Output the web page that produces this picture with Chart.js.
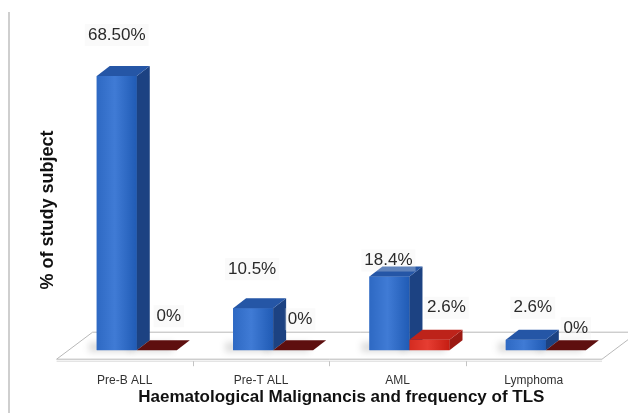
<!DOCTYPE html>
<html>
<head>
<meta charset="utf-8">
<script src="https://cdn.jsdelivr.net/npm/chart.js@4/dist/chart.umd.min.js"></script>
<style>
  html, body { margin: 0; padding: 0; background: #fff; }
  #wrap { position: relative; width: 628px; height: 413px; }
</style>
</head>
<body>
<div id="wrap"><canvas id="c" width="628" height="413"></canvas></div>
<script>
// Haematological malignancies: share of study subjects and TLS frequency
const categories = ['Pre-B ALL', 'Pre-T ALL', 'AML', 'Lymphoma'];
const subjectLabels = ['68.50%', '10.5%', '18.4%', '2.6%'];
const tlsLabels = ['0%', '0%', '2.6%', '0%'];
const subjectValues = subjectLabels.map(parseFloat);
const tlsValues = tlsLabels.map(parseFloat);

// where each value label sits relative to its bar's top (dx, dy)
const subjectNudge = [[0, -41], [-1, -39], [-1, -16], [7, -32]];
const tlsNudge = [[12, -34], [7, -31], [17, -32], [10, -22]];

const DEPTH_X = 13, DEPTH_Y = -10;      // 3D depth of each bar
const FLOOR_FRONT = 9, FLOOR_BACK = -18; // floor edges relative to bar base
const FLOOR_SHIFT_F = -12, FLOOR_SHIFT_B = 24;

const faces = {
  blue: { front: '#2e69c3', side: '#1c4282', top: '#2556a6' },
  red: { front: '#d42b20', side: '#9c1a13', top: '#bd231a' },
  maroon: { front: '#5a0d0d', side: '#4a0a0a', top: '#5e0f0f' }
};

function paletteFor(di, v) {
  if (di === 0) return faces.blue;
  return v === 0 ? faces.maroon : faces.red;
}

function shade(hex, amt) {
  const n = parseInt(hex.slice(1), 16);
  const c = [(n >> 16) & 255, (n >> 8) & 255, n & 255].map(v => Math.max(0, Math.min(255, v + amt)));
  return 'rgb(' + c.join(',') + ')';
}

const floorPlugin = {
  id: 'floor3d',
  beforeDatasetsDraw(chart) {
    const { ctx, chartArea, scales } = chart;
    const base = scales.y.getPixelForValue(0);
    const l = chartArea.left, r = chartArea.right;
    const fy = base + FLOOR_FRONT, by = base + FLOOR_BACK;
    ctx.save();
    ctx.beginPath();
    ctx.moveTo(l + FLOOR_SHIFT_F, fy);
    ctx.lineTo(r + FLOOR_SHIFT_F, fy);
    ctx.lineTo(r + FLOOR_SHIFT_B, by);
    ctx.lineTo(l + FLOOR_SHIFT_B, by);
    ctx.closePath();
    ctx.fillStyle = '#ffffff';
    ctx.fill();
    ctx.strokeStyle = '#b8b8b8';
    ctx.lineWidth = 1;
    ctx.stroke();
    // thin front lip of the floor
    ctx.beginPath();
    ctx.moveTo(l + FLOOR_SHIFT_F, fy + 2);
    ctx.lineTo(r + FLOOR_SHIFT_F, fy + 2);
    ctx.strokeStyle = '#d8d8d8';
    ctx.stroke();
    // category tick marks along the front edge
    const n = categories.length;
    const step = (r - l) / n;
    ctx.strokeStyle = '#c4c4c4';
    for (let i = 1; i < n; i++) {
      const x = Math.round(l + step * i + FLOOR_SHIFT_F) + 0.5;
      ctx.beginPath();
      ctx.moveTo(x, fy + 2);
      ctx.lineTo(x, fy + 7);
      ctx.stroke();
    }
    // soft shadows cast on the floor
    ctx.filter = 'blur(3px)';
    ctx.fillStyle = 'rgba(0,0,0,0.13)';
    chart.data.datasets.forEach((ds, di) => {
      chart.getDatasetMeta(di).data.forEach((bar) => {
        const x1 = bar.x - bar.width / 2;
        ctx.fillRect(x1 - 8, bar.base - 8, bar.width + 4, 10);
      });
    });
    ctx.filter = 'none';
    ctx.restore();
  },
  afterDatasetsDraw(chart) {
    const { ctx } = chart;
    const metas = chart.data.datasets.map((_, di) => chart.getDatasetMeta(di));
    ctx.save();
    for (let i = 0; i < categories.length; i++) {
      metas.forEach((meta, di) => {
        const bar = meta.data[i];
        const v = chart.data.datasets[di].data[i];
        const p = paletteFor(di, v);
        const x1 = bar.x - bar.width / 2, x2 = bar.x + bar.width / 2;
        const top = Math.min(bar.y, bar.base), bot = bar.base;
        // front face with a slight horizontal sheen
        if (bot - top > 0) {
          const g = ctx.createLinearGradient(x1, 0, x2, 0);
          g.addColorStop(0, p.front);
          g.addColorStop(0.45, shade(p.front, 18));
          g.addColorStop(1, shade(p.front, -14));
          ctx.fillStyle = g;
          ctx.fillRect(x1, top, x2 - x1, bot - top);
        }
        // right side face
        ctx.beginPath();
        ctx.moveTo(x2, top);
        ctx.lineTo(x2 + DEPTH_X, top + DEPTH_Y);
        ctx.lineTo(x2 + DEPTH_X, bot + DEPTH_Y);
        ctx.lineTo(x2, bot);
        ctx.closePath();
        ctx.fillStyle = p.side;
        ctx.fill();
        // top face
        ctx.beginPath();
        ctx.moveTo(x1, top);
        ctx.lineTo(x2, top);
        ctx.lineTo(x2 + DEPTH_X, top + DEPTH_Y);
        ctx.lineTo(x1 + DEPTH_X, top + DEPTH_Y);
        ctx.closePath();
        ctx.fillStyle = p.top;
        ctx.fill();
      });
    }
    ctx.restore();
  },
  afterDraw(chart) {
    const { ctx } = chart;
    ctx.save();
    // frame line on the left
    ctx.fillStyle = '#cfcfcf';
    ctx.fillRect(8, 12, 2, 401);
    // value labels
    ctx.font = '17px "Liberation Sans", Arial, sans-serif';
    ctx.textAlign = 'center';
    ctx.textBaseline = 'middle';
    const texts = [subjectLabels, tlsLabels];
    const nudges = [subjectNudge, tlsNudge];
    chart.data.datasets.forEach((ds, di) => {
      chart.getDatasetMeta(di).data.forEach((bar, i) => {
        const x = bar.x + nudges[di][i][0];
        const y = Math.min(bar.y, bar.base) + nudges[di][i][1];
        const t = texts[di][i];
        const w = ctx.measureText(t).width;
        ctx.fillStyle = 'rgba(240,240,240,0.3)';
        ctx.fillRect(x - w / 2 - 3, y - 11, w + 6, 22);
        ctx.fillStyle = '#2a2a2a';
        ctx.fillText(t, x, y);
      });
    });
    ctx.restore();
  }
};

new Chart(document.getElementById('c'), {
  type: 'bar',
  data: {
    labels: categories,
    datasets: [
      { label: '% of study subject', data: subjectValues, backgroundColor: faces.blue.front },
      { label: 'TLS', data: tlsValues, backgroundColor: tlsValues.map(v => v === 0 ? faces.maroon.front : faces.red.front) }
    ]
  },
  options: {
    responsive: false,
    animation: false,
    layout: { padding: { left: 37, right: 14, top: 70, bottom: 0 } },
    datasets: { bar: { categoryPercentage: 0.587, barPercentage: 1.0 } },
    plugins: { legend: { display: false }, tooltip: { enabled: false } },
    scales: {
      x: {
        grid: { display: false, drawTicks: false },
        border: { display: false },
        ticks: {
          padding: 23,
          labelOffset: -12,
          maxRotation: 0,
          color: '#333',
          font: { family: '"Liberation Sans", Arial, sans-serif', size: 12 }
        },
        title: {
          display: true,
          text: 'Haematological Malignancis and frequency of TLS',
          color: '#111',
          font: { family: '"Liberation Sans", Arial, sans-serif', size: 17, weight: 'bold' },
          padding: { top: -23, bottom: 5 }
        }
      },
      y: {
        min: 0,
        max: 70,
        grid: { display: false, drawTicks: false },
        border: { display: false },
        ticks: { display: false },
        title: {
          display: true,
          text: '% of study subject',
          color: '#111',
          font: { family: '"Liberation Sans", Arial, sans-serif', size: 18, weight: 'bold' },
          padding: { top: 0, bottom: 10 }
        }
      }
    }
  },
  plugins: [floorPlugin]
});
</script>
</body>
</html>
